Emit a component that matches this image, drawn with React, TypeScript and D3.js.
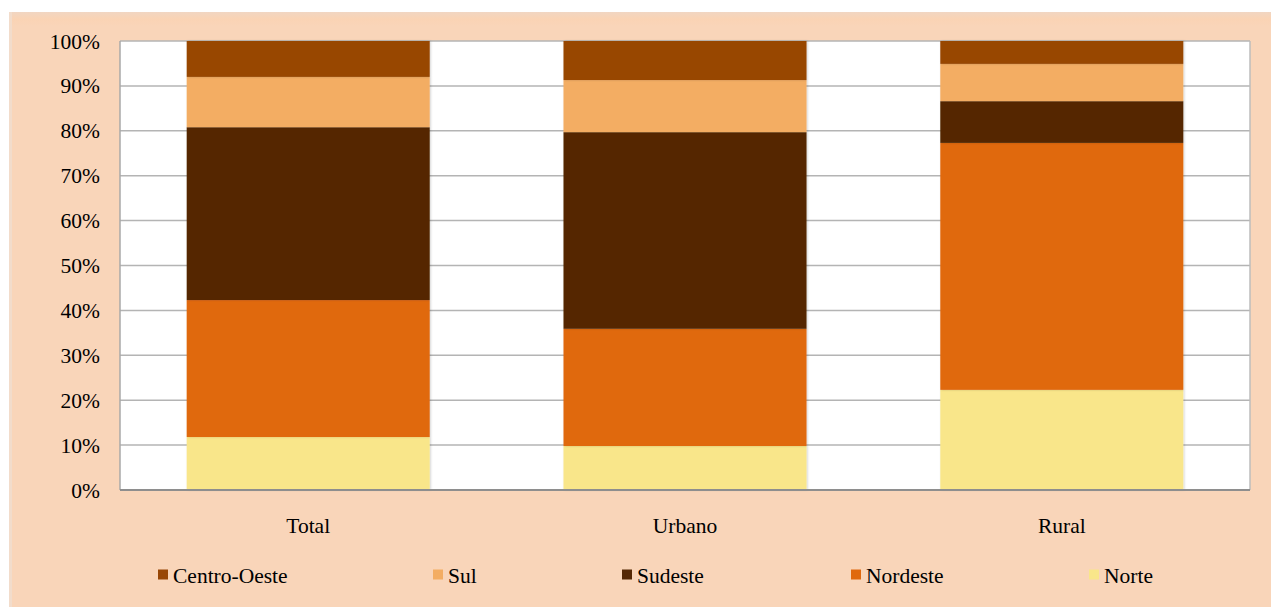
import React from "react";
import * as d3 from "d3";

const categories = ["Total", "Urbano", "Rural"];
const seriesNames = ["Norte", "Nordeste", "Sudeste", "Sul", "Centro-Oeste"];
const norte = [11.8, 9.8, 22.3];
const nordeste = [30.5, 26.1, 55.0];
const sudeste = [38.5, 43.8, 9.3];
const sul = [11.2, 11.6, 8.3];
const centroOeste = [8.0, 8.7, 5.1];
const yTicks = [0, 10, 20, 30, 40, 50, 60, 70, 80, 90, 100];
const legendOrder = ["Centro-Oeste", "Sul", "Sudeste", "Nordeste", "Norte"];

const colors: Record<string, string> = {
  Norte: "#F9E68A",
  Nordeste: "#E0690E",
  Sudeste: "#552805",
  Sul: "#F3AD63",
  "Centro-Oeste": "#984706",
};

const W = 1278;
const H = 607;
const plot = { left: 120, right: 1250, top: 41, bottom: 490 };
const legendX = [158, 433, 622, 851, 1089];
const FONT = "Liberation Serif, Tinos, DejaVu Serif, Times New Roman, serif";

export default function App() {
  const rows = categories.map((c, i) => ({
    cat: c,
    Norte: norte[i],
    Nordeste: nordeste[i],
    Sudeste: sudeste[i],
    Sul: sul[i],
    "Centro-Oeste": centroOeste[i],
  }));
  const stack = d3.stack<any>().keys(seriesNames);
  const layers = stack(rows);

  const x = d3
    .scaleBand<string>()
    .domain(categories)
    .range([plot.left, plot.right])
    .paddingInner(0.355)
    .paddingOuter(0.177);
  const y = d3.scaleLinear().domain([0, 100]).range([plot.bottom, plot.top]);

  const txt = { fontFamily: FONT, fontSize: "21.5px" } as React.CSSProperties;

  return (
    <svg
      width={W}
      height={H}
      style={{ position: "absolute", left: 0, top: 0, display: "block" }}
    >
      <defs>
        <linearGradient id="topStrip" x1="0" y1="0" x2="0" y2="1">
          <stop offset="0" stopColor="#F1D6C2" />
          <stop offset="0.5" stopColor="#FAD3B4" />
          <stop offset="1" stopColor="#F9D5B9" />
        </linearGradient>
        <filter id="shadow" x="-5%" y="-5%" width="110%" height="110%">
          <feDropShadow dx="1" dy="0" stdDeviation="1" floodColor="#000" floodOpacity="0.18" />
        </filter>
      </defs>
      <rect x={0} y={0} width={W} height={H} fill="#FFFFFF" />
      <rect x={9} y={12} width={1262} height={H - 12} fill="#F9D5B9" />
      <rect x={9} y={12} width={1262} height={14} fill="url(#topStrip)" />
      <rect x={9} y={12} width={3} height={H - 12} fill="#F2DCCB" />

      <rect
        x={plot.left}
        y={plot.top}
        width={plot.right - plot.left}
        height={plot.bottom - plot.top}
        fill="#FFFFFF"
      />
      {yTicks.map((t) => (
        <line
          key={"g" + t}
          x1={plot.left}
          x2={plot.right}
          y1={y(t)}
          y2={y(t)}
          stroke="#B4B4B4"
          strokeWidth={1.5}
        />
      ))}
      <line x1={plot.right} x2={plot.right} y1={plot.top} y2={plot.bottom} stroke="#BDBDBD" strokeWidth={1.5} />
      <line x1={plot.left} x2={plot.left} y1={plot.top} y2={plot.bottom} stroke="#A8A8A8" strokeWidth={1.5} />

      {layers.map((layer) => (
        <g key={layer.key} fill={colors[layer.key]}>
          {layer.map((d: any, i: number) => (
            <rect
              key={i}
              x={x(d.data.cat)}
              y={y(d[1])}
              width={x.bandwidth()}
              height={y(d[0]) - y(d[1])}
              filter="url(#shadow)"
            />
          ))}
        </g>
      ))}

      <line x1={plot.left} x2={plot.right} y1={plot.bottom} y2={plot.bottom} stroke="#8E8E8E" strokeWidth={2} />

      {yTicks.map((t) => (
        <text
          key={"t" + t}
          x={100}
          y={y(t)}
          dy="0.35em"
          textAnchor="end"
          style={txt}
          fill="#000"
        >
          {t + "%"}
        </text>
      ))}

      {categories.map((c) => (
        <text
          key={c}
          x={(x(c) as number) + x.bandwidth() / 2}
          y={525}
          dy="0.35em"
          textAnchor="middle"
          style={txt}
          fill="#000"
        >
          {c}
        </text>
      ))}

      {legendOrder.map((name, i) => (
        <g key={name} transform={`translate(${legendX[i]},575)`}>
          <rect x={0} y={-5.5} width={10} height={10} fill={colors[name]} />
          <text x={15} y={0} dy="0.35em" style={txt} fill="#000">
            {name}
          </text>
        </g>
      ))}
    </svg>
  );
}
